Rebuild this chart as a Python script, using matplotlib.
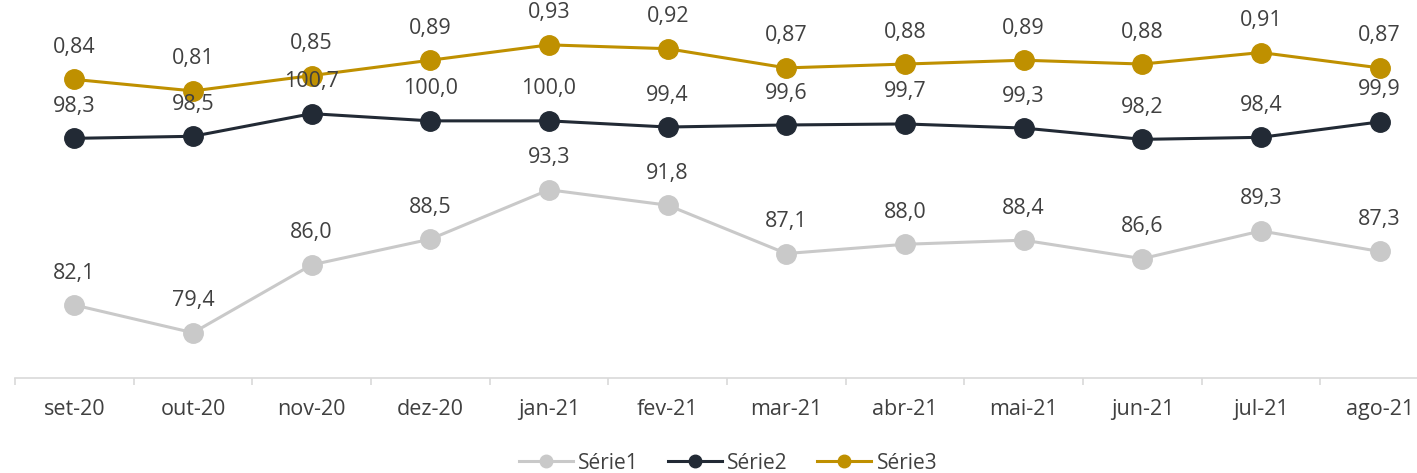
import matplotlib.pyplot as plt
from matplotlib.lines import Line2D
from matplotlib.ticker import FixedLocator

months = ['set-20', 'out-20', 'nov-20', 'dez-20', 'jan-21', 'fev-21',
          'mar-21', 'abr-21', 'mai-21', 'jun-21', 'jul-21', 'ago-21']
serie1 = [82.1, 79.4, 86.0, 88.5, 93.3, 91.8, 87.1, 88.0, 88.4, 86.6, 89.3, 87.3]
serie2 = [98.3, 98.5, 100.7, 100.0, 100.0, 99.4, 99.6, 99.7, 99.3, 98.2, 98.4, 99.9]
serie3 = [0.84, 0.81, 0.85, 0.89, 0.93, 0.92, 0.87, 0.88, 0.89, 0.88, 0.91, 0.87]

c1 = '#c9c9c9'
c2 = '#222a35'
c3 = '#bf9000'
txt = '#404040'
grid_c = '#d9d9d9'

plt.rcParams['font.family'] = ['Open Sans', 'DejaVu Sans']


def fmt(v, nd):
    return f'{v:.{nd}f}'.replace('.', ',')


def main():
    W, H = 1417, 473
    fig = plt.figure(figsize=(W / 100, H / 100), dpi=100)
    ax = fig.add_axes([15 / W, (H - 378) / H, 1424 / W, 360 / H])
    ax2 = ax.twinx()

    x = list(range(len(months)))
    ax.plot(x, serie1, color=c1, lw=2.2, marker='o', ms=14, zorder=3)
    ax.plot(x, serie2, color=c2, lw=2.2, marker='o', ms=14, zorder=3)
    ax2.plot(x, serie3, color=c3, lw=2.2, marker='o', ms=14, zorder=3)

    # all labels on the top axes so they sit above every marker
    for i in x:
        for vals, nd, a in ((serie1, 1, ax), (serie2, 1, ax), (serie3, 2, ax2)):
            ax2.annotate(fmt(vals[i], nd), (i, vals[i]), xycoords=a.transData,
                         xytext=(0, 23), textcoords='offset points',
                         ha='center', va='center', fontsize=15.5, color=txt,
                         zorder=5)

    ax.set_xlim(-0.5, 11.5)
    ax.set_ylim(75, 110)
    ax2.set_ylim(0.062, 1.0)

    for a in (ax, ax2):
        for s in ['top', 'left', 'right', 'bottom']:
            a.spines[s].set_visible(False)
        a.set_yticks([])
    ax.spines['bottom'].set_visible(True)
    ax.spines['bottom'].set_color(grid_c)
    ax.spines['bottom'].set_linewidth(1.2)

    ax.set_xticks(x)
    ax.set_xticklabels(months, fontsize=15.5, color=txt)
    ax.tick_params(axis='x', which='major', length=0, pad=15)
    ax.xaxis.set_minor_locator(FixedLocator([i - 0.5 for i in range(13)]))
    ax.tick_params(axis='x', which='minor', length=5, width=1.2,
                   color=grid_c)

    handles = [
        Line2D([], [], color=c1, lw=2.2, marker='o', ms=9),
        Line2D([], [], color=c2, lw=2.2, marker='o', ms=9),
        Line2D([], [], color=c3, lw=2.2, marker='o', ms=9),
    ]
    fig.legend(handles, ['Série1', 'Série2', 'Série3'], loc='center',
               bbox_to_anchor=(728 / W, 1 - 463 / H), ncol=3, frameon=False,
               fontsize=15, labelcolor=txt, handlelength=2.6,
               handletextpad=0.25, columnspacing=1.4)

    fig.savefig('out.png', dpi=100)


if __name__ == "__main__":
    main()
